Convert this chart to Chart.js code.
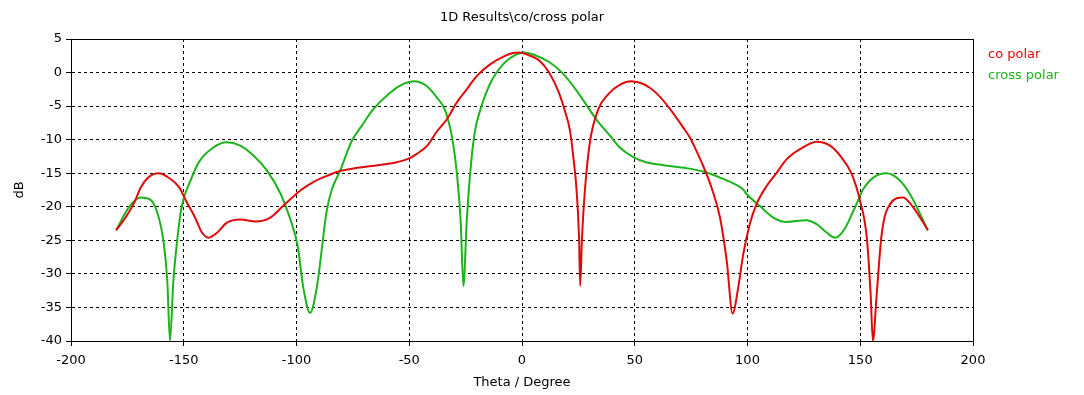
<!DOCTYPE html>
<html>
<head>
<meta charset="utf-8">
<title>1D Results\co/cross polar</title>
<script src="https://cdn.jsdelivr.net/npm/chart.js@4/dist/chart.umd.min.js"></script>
<style>
  html, body { margin: 0; padding: 0; background: #ffffff; }
  #wrap { width: 1084px; height: 395px; }
</style>
</head>
<body>
<div id="wrap"><canvas id="chart" width="1084" height="395"></canvas></div>
<script>
// co polar: theta (deg) and level (dB)
const coTheta = [-180, -176, -172, -169, -166, -161, -157, -152, -149, -145, -142, -139, -135, -131, -125, -118, -112, -106, -98, -92, -88, -81, -73, -64, -56, -50, -47, -42, -38, -33, -29, -24.5, -20, -14, -8, -4, -1, 2, 8, 12, 16, 19, 21.3, 22.8, 24.2, 25.3, 25.8, 26.6, 27.9, 30.2, 33.8, 38.3, 43.5, 48.6, 53.8, 56.8, 59.7, 65.6, 71.5, 74.5, 76, 80, 84, 87.8, 90.8, 93.4, 95.9, 98.1, 101, 104, 108.5, 113, 117.4, 123.3, 130.7, 136.6, 141.8, 146.2, 149.9, 152.9, 154.6, 155.6, 157.3, 159.5, 163.2, 169, 173.5, 180];
const coDb = [-23.5, -21.7, -19.4, -17.1, -15.7, -15.0, -15.6, -17.1, -19.1, -21.6, -23.8, -24.6, -23.8, -22.4, -21.9, -22.2, -21.7, -19.9, -17.5, -16.2, -15.6, -14.7, -14.2, -13.8, -13.4, -12.8, -12.2, -10.9, -8.9, -6.8, -4.5, -2.5, -0.5, 1.25, 2.4, 2.9, 3.0, 2.7, 1.7, 0.0, -2.7, -5.7, -8.7, -12.7, -17.5, -24.6, -31.8, -24.6, -17.5, -10.2, -5.5, -3.2, -1.8, -1.3, -1.7, -2.3, -3.1, -5.4, -8.2, -9.7, -10.7, -13.65, -17.1, -21.6, -28.1, -35.9, -32, -27.1, -22.6, -19.6, -16.9, -14.9, -12.9, -11.4, -10.3, -10.9, -12.7, -15.1, -19.1, -24.6, -33, -40, -33, -24.1, -19.6, -18.6, -20.1, -23.5];

// cross polar
const crossTheta = [-180, -174, -169, -165, -162, -159, -157.3, -156.1, -154.6, -153.1, -151, -147, -143, -137, -131, -125, -119, -113, -107, -103, -99.5, -97, -94, -91, -86.6, -84.4, -80.7, -75.5, -71, -66, -58.5, -52.6, -48, -42.3, -37.8, -34, -31, -28.8, -27.2, -26, -24.5, -23, -21, -18.6, -14.2, -8.3, -2.4, 1, 5, 12.4, 18.3, 24.2, 33, 39, 43.5, 49.4, 55.3, 62.7, 73, 80.4, 87.8, 93, 98, 99.6, 105.5, 111.4, 117.4, 126, 130.7, 135, 138.8, 142.5, 147, 151.3, 155.8, 161.7, 167, 172, 180];
const crossDb = [-23.5, -19.9, -18.6, -18.9, -20.6, -25.1, -31, -40, -31, -25.6, -20.1, -16.1, -13.2, -11.2, -10.4, -10.9, -12.4, -14.65, -18.1, -21.6, -25.8, -32, -35.8, -32, -20.6, -17.5, -14.65, -10.2, -7.9, -5.5, -3.0, -1.7, -1.3, -2.0, -3.7, -5.7, -9.7, -15.3, -22.1, -31.8, -22.1, -15.1, -9, -5.7, -1.7, 1.25, 2.7, 3.0, 2.7, 1.5, -0.2, -2.7, -7.0, -9.4, -11.2, -12.6, -13.4, -13.8, -14.25, -14.75, -15.65, -16.4, -17.4, -18.1, -19.9, -21.6, -22.25, -22, -22.6, -23.8, -24.6, -23.6, -20.6, -17.4, -15.65, -15, -15.9, -18.1, -23.5];

const seriesNames = ["co polar", "cross polar"];
const seriesColors = ["#e00a0a", "#1cb41c"];
const chartTitle = "1D Results\\co/cross polar";

const FONT = "DejaVu Sans";
const FSIZE = 13;

function toPoints(xs, ys) {
  return xs.map((x, i) => ({ x: x, y: ys[i] }));
}

// solid frame, title over the plot centre and the coloured legend on the right
const framePlugin = {
  id: "frame",
  afterDraw(chart) {
    const { ctx, chartArea } = chart;
    ctx.save();
    ctx.strokeStyle = "#000000";
    ctx.lineWidth = 1;
    ctx.setLineDash([]);
    ctx.strokeRect(Math.round(chartArea.left) + 0.5, Math.round(chartArea.top) + 0.5,
      Math.round(chartArea.right - chartArea.left), Math.round(chartArea.bottom - chartArea.top));
    ctx.font = FSIZE + "px '" + FONT + "'";
    ctx.textBaseline = "middle";
    ctx.textAlign = "center";
    ctx.fillStyle = "#000000";
    ctx.fillText(chartTitle, (chartArea.left + chartArea.right) / 2, 18);
    ctx.textAlign = "left";
    seriesNames.forEach((name, i) => {
      ctx.fillStyle = seriesColors[i];
      ctx.fillText(name, chartArea.right + 15, 55 + i * 21);
    });
    ctx.restore();
  }
};

const gridOpts = {
  color: "#000000",
  lineWidth: 1,
  tickLength: 5,
  tickColor: "#000000",
  tickBorderDash: []
};

new Chart(document.getElementById("chart"), {
  type: "line",
  data: {
    datasets: [
      {
        label: seriesNames[0],
        data: toPoints(coTheta, coDb),
        borderColor: seriesColors[0],
        borderWidth: 2,
        pointRadius: 0,
        cubicInterpolationMode: "monotone",
        fill: false
      },
      {
        label: seriesNames[1],
        data: toPoints(crossTheta, crossDb),
        borderColor: seriesColors[1],
        borderWidth: 2,
        pointRadius: 0,
        cubicInterpolationMode: "monotone",
        fill: false
      }
    ]
  },
  options: {
    responsive: false,
    animation: false,
    devicePixelRatio: 1,
    layout: { padding: { left: 0, right: 111, top: 39, bottom: 0 } },
    plugins: {
      legend: { display: false },
      tooltip: { enabled: false },
      title: { display: false }
    },
    scales: {
      x: {
        type: "linear",
        min: -200,
        max: 200,
        afterFit(scale) { scale.height = 54; },
        ticks: {
          stepSize: 50,
          color: "#000000",
          font: { family: FONT, size: FSIZE },
          padding: 7,
          maxRotation: 0
        },
        grid: gridOpts,
        border: { display: true, color: "#000000", width: 1, dash: [3, 3] },
        title: {
          display: true,
          text: "Theta / Degree",
          color: "#000000",
          font: { family: FONT, size: FSIZE },
          padding: { top: 0, bottom: 5 }
        }
      },
      y: {
        min: -40,
        max: 5,
        afterFit(scale) { scale.width = 71; },
        ticks: {
          stepSize: 5,
          color: "#000000",
          font: { family: FONT, size: FSIZE },
          padding: 4
        },
        grid: gridOpts,
        border: { display: true, color: "#000000", width: 1, dash: [3, 3] },
        title: {
          display: true,
          text: "dB",
          color: "#000000",
          font: { family: FONT, size: FSIZE },
          padding: { top: 12, bottom: 0 }
        }
      }
    }
  },
  plugins: [framePlugin]
});
</script>
</body>
</html>
